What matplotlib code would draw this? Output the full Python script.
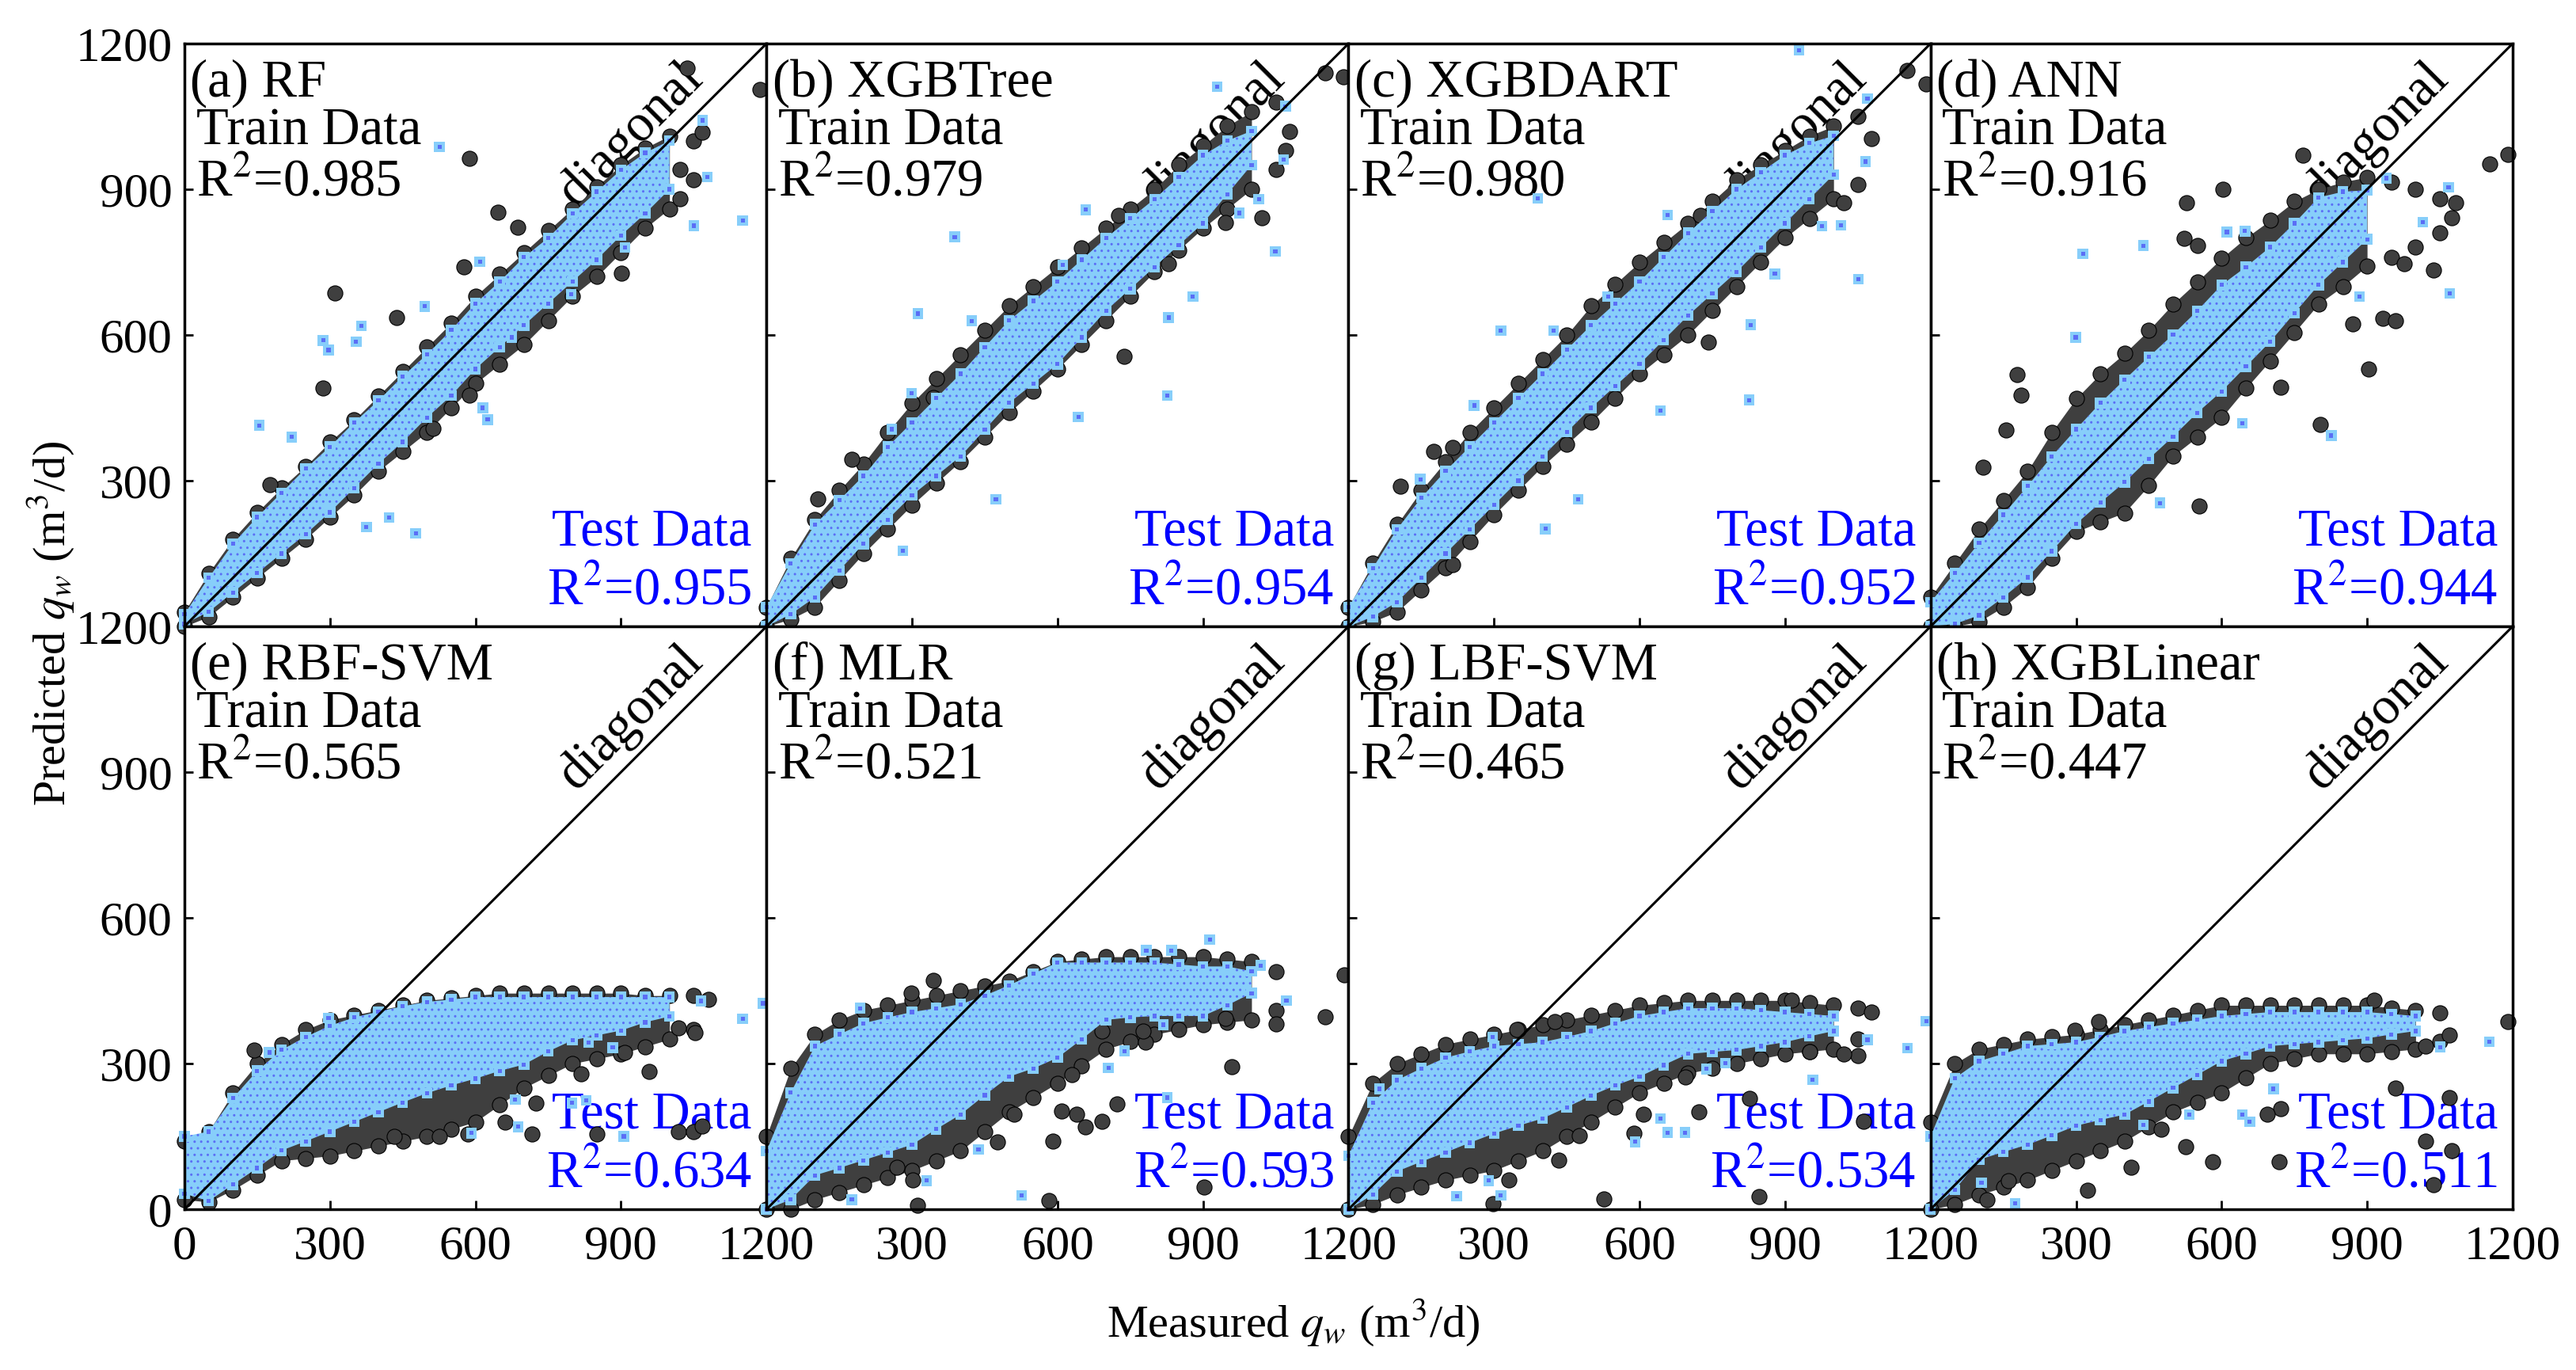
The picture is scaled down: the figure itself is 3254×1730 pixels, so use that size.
import numpy as np
import matplotlib
matplotlib.use('Agg')
import matplotlib.pyplot as plt

plt.rcParams['font.family'] = ['Liberation Serif', 'DejaVu Serif']
plt.rcParams['mathtext.fontset'] = 'stix'
plt.rcParams['hatch.linewidth'] = 1.0

# panel titles and R2 values
titles = ['(a) RF', '(b) XGBTree', '(c) XGBDART', '(d) ANN',
          '(e) RBF-SVM', '(f) MLR', '(g) LBF-SVM', '(h) XGBLinear']
train_r2 = ['0.985', '0.979', '0.980', '0.916', '0.565', '0.521', '0.465', '0.447']
test_r2 = ['0.955', '0.954', '0.952', '0.944', '0.634', '0.593', '0.534', '0.511']
ticks = [0, 300, 600, 900, 1200]

grid = [0, 50, 100, 150, 200, 250, 300, 350, 400, 450, 500,
        550, 600, 650, 700, 750, 800, 850, 900, 950, 1000, 1050]

# lower / upper edge of each cloud (predicted), sparse points listed separately
rf_train_lo = [0, 20, 60, 100, 140, 180, 225, 270, 320, 360, 400, 450, 500, 540, 580, 630, 680, 720, 770, 820, 860, 920]
rf_train_hi = [30, 110, 180, 235, 285, 330, 380, 425, 475, 525, 575, 625, 680, 725, 770, 815, 860, 905, 950, 985, 1010, 1000]
rf_test_lo = [5, 30, 70, 110, 150, 190, 235, 285, 335, 380, 430, 475, 530, 575, 620, 665, 710, 755, 805, 850, 900]
rf_test_hi = [25, 100, 170, 225, 275, 325, 370, 420, 465, 515, 560, 610, 665, 710, 760, 800, 850, 895, 940, 975, 1000]
rf_train_out = [(310, 686), (588, 963), (646, 852), (687, 822), (576, 740), (286, 490),
                (437, 636), (1021, 880), (901, 727), (1021, 940), (512, 407), (1187, 1106),
                (1036, 1149), (1068, 1018), (588, 476), (177, 292)]
rf_test_out = [(526, 987), (1078, 925), (1151, 836), (1050, 825), (609, 751), (1068, 1042),
               (365, 619), (286, 589), (297, 569), (354, 586), (154, 414), (221, 390),
               (625, 426), (615, 450), (477, 192), (375, 205), (422, 224), (797, 684),
               (908, 780), (675, 595), (495, 659)]

xt_train_lo = [0, 15, 40, 95, 150, 200, 250, 295, 340, 390, 440, 485, 530, 580, 630, 680, 730, 775, 820, 860, 900, 940]
xt_train_hi = [40, 140, 220, 280, 335, 400, 460, 510, 560, 610, 660, 700, 740, 780, 820, 860, 900, 950, 990, 1030, 1060, 1080]
xt_test_lo = [0, 25, 60, 115, 170, 220, 270, 310, 350, 405, 460, 500, 540, 595, 650, 695, 740, 785, 830, 890, 950]
xt_test_hi = [40, 130, 210, 260, 310, 370, 420, 470, 520, 575, 630, 670, 710, 755, 800, 840, 880, 925, 970, 1000, 1020]
xt_train_out = [(1152, 1139), (1189, 1132), (1078, 1019), (1070, 980), (1021, 842), (947, 832),
                (738, 556), (726, 847), (105, 262), (176, 344), (828, 746), (344, 472)]
xt_test_out = [(929, 1111), (1070, 1071), (1066, 961), (1049, 772), (1015, 880), (975, 851),
               (658, 858), (388, 802), (312, 644), (423, 629), (826, 475), (643, 431),
               (879, 679), (829, 636), (299, 480), (258, 406), (473, 262), (281, 156),
               (611, 744)]

xd_train_lo = [0, 10, 30, 75, 120, 175, 230, 280, 330, 375, 420, 470, 520, 560, 600, 650, 700, 750, 800, 840, 880, 910]
xd_train_hi = [40, 130, 210, 280, 340, 400, 450, 500, 550, 600, 660, 705, 750, 790, 830, 875, 920, 950, 980, 1010, 1030, 1050]
xd_test_lo = [0, 20, 50, 100, 150, 200, 250, 300, 350, 400, 450, 495, 540, 590, 640, 685, 730, 780, 830, 880, 930]
xd_test_hi = [40, 120, 200, 265, 320, 370, 420, 470, 520, 570, 620, 665, 710, 760, 810, 855, 900, 935, 970, 995, 1010]
xd_train_out = [(1152, 1144), (1191, 1117), (1078, 1004), (1021, 873), (726, 847), (722, 797),
                (176, 361), (215, 369), (107, 289), (742, 586), (215, 127)]
xd_test_out = [(929, 1186), (1070, 1087), (1066, 957), (1051, 715), (976, 824), (1015, 826),
               (658, 847), (390, 881), (314, 609), (423, 609), (826, 466), (643, 444),
               (829, 621), (879, 726), (259, 455), (148, 303), (406, 201), (473, 262),
               (535, 679)]

ann_train_lo = [0, 0, 10, 40, 80, 140, 195, 215, 234, 290, 351, 390, 430, 490, 547, 605, 664, 700, 742, 760, 781, 810]
ann_train_hi = [60, 130, 200, 260, 320, 400, 469, 520, 562, 610, 664, 710, 758, 800, 836, 875, 900, 915, 925, 915, 900, 880]
ann_test_lo = [0, 5, 23, 60, 101, 155, 211, 255, 297, 345, 391, 440, 484, 535, 586, 645, 703, 750, 797]
ann_test_hi = [50, 110, 172, 230, 289, 350, 406, 460, 508, 555, 601, 650, 703, 740, 781, 830, 883, 895, 898]
ann_train_out = [(1191, 972), (1152, 953), (768, 970), (603, 900), (527, 873), (523, 799),
                 (551, 785), (1037, 733), (976, 746), (933, 634), (959, 629), (871, 623),
                 (903, 530), (803, 415), (178, 519), (187, 476), (156, 404), (109, 328),
                 (553, 248), (722, 492), (1082, 873), (1074, 842)]
ann_test_out = [(314, 767), (439, 784), (299, 595), (611, 812), (648, 814), (1068, 904),
                (1070, 686), (884, 679), (1015, 832), (826, 393), (643, 418), (473, 254),
                (940, 923)]

rbf_train_lo = [20, 15, 40, 70, 100, 105, 110, 120, 130, 140, 150, 165, 180, 215, 250, 275, 300, 310, 320, 335, 350, 370]
rbf_train_hi = [140, 160, 240, 300, 340, 370, 390, 400, 410, 420, 430, 435, 440, 445, 445, 445, 445, 445, 445, 440, 440, 440]
rbf_test_lo = [32, 17, 51, 85, 121, 140, 160, 180, 200, 220, 239, 255, 269, 285, 298, 325, 348, 358, 368, 385, 397]
rbf_test_hi = [150, 160, 229, 285, 328, 355, 378, 395, 407, 418, 427, 432, 437, 437, 437, 437, 437, 437, 437, 437, 437]
rbf_train_out = [(144, 328), (526, 150), (584, 155), (716, 155), (851, 155), (1019, 160),
                 (1049, 160), (1068, 172), (958, 284), (818, 279), (661, 180), (432, 150),
                 (724, 219), (1081, 432), (1052, 363), (1019, 373), (908, 323)]
rbf_test_out = [(1151, 392), (1193, 424), (1065, 429), (906, 150), (592, 157), (688, 170),
                (799, 219), (828, 224), (682, 226), (297, 394), (175, 323), (883, 333),
                (833, 343)]

mlr_train_lo = [0, 0, 20, 35, 50, 65, 80, 100, 120, 160, 200, 230, 260, 295, 330, 345, 360, 370, 380, 385, 390, 410]
mlr_train_hi = [150, 290, 360, 390, 410, 420, 430, 440, 450, 460, 470, 490, 510, 515, 520, 520, 520, 520, 520, 515, 510, 490]
mlr_test_lo = [0, 20, 70, 85, 101, 117, 133, 165, 195, 235, 273, 290, 312, 350, 390, 395, 398, 398, 398, 420, 445]
mlr_test_hi = [120, 240, 336, 360, 383, 395, 406, 414, 422, 440, 461, 485, 508, 508, 508, 508, 508, 504, 500, 500, 490]
mlr_train_out = [(344, 472), (298, 445), (1191, 483), (1152, 396), (1051, 381), (947, 393),
                 (959, 294), (902, 45), (722, 217), (691, 181), (658, 169), (640, 195),
                 (608, 203), (590, 141), (582, 18), (476, 139), (510, 195), (629, 277),
                 (781, 344), (691, 367), (301, 61), (269, 86), (312, 8), (777, 367)]
mlr_test_out = [(914, 555), (783, 533), (835, 533), (1019, 502), (1072, 430), (738, 326),
                (705, 291), (818, 380), (826, 230), (437, 123), (330, 59), (526, 29),
                (176, 20), (193, 414), (150, 361)]

lbf_train_lo = [0, 10, 30, 45, 60, 70, 80, 100, 120, 150, 180, 210, 240, 260, 280, 290, 300, 310, 320, 325, 330, 350]
lbf_train_hi = [150, 260, 300, 320, 340, 350, 360, 370, 380, 390, 400, 410, 420, 425, 430, 430, 430, 430, 430, 425, 420, 415]
lbf_test_lo = [0, 30, 78, 98, 117, 137, 156, 172, 187, 210, 234, 255, 273, 297, 320, 324, 328, 336, 344, 356, 367]
lbf_test_hi = [110, 220, 266, 290, 312, 325, 336, 340, 344, 355, 367, 383, 398, 406, 414, 414, 414, 410, 406, 402, 398]
lbf_train_out = [(914, 430), (1078, 406), (1051, 316), (1021, 320), (426, 387), (347, 371),
                 (722, 201), (608, 195), (588, 156), (527, 22), (434, 102), (476, 152),
                 (847, 27), (330, 61), (298, 12), (1062, 181), (826, 228), (695, 273),
                 (950, 324)]
lbf_test_out = [(1191, 387), (1152, 332), (1070, 349), (957, 267), (738, 289), (777, 301),
                (643, 187), (658, 158), (694, 158), (591, 139), (289, 59), (314, 29),
                (223, 27), (297, 355), (64, 248)]

xl_train_lo = [0, 10, 30, 45, 60, 80, 100, 120, 140, 170, 200, 220, 240, 270, 300, 310, 320, 320, 320, 325, 330, 345]
xl_train_hi = [180, 300, 330, 340, 350, 355, 360, 370, 380, 390, 400, 410, 420, 420, 420, 420, 420, 420, 420, 415, 410, 405]
xl_test_lo = [0, 40, 102, 118, 133, 152, 172, 184, 195, 222, 250, 277, 305, 320, 336, 340, 344, 348, 352, 360, 367]
xl_test_hi = [150, 270, 305, 320, 336, 340, 344, 355, 367, 375, 383, 390, 398, 402, 406, 406, 406, 406, 406, 402, 398]
xl_train_out = [(346, 387), (298, 369), (1191, 387), (1070, 359), (1021, 336), (959, 250),
                (1070, 230), (1021, 141), (718, 98), (582, 98), (414, 86), (526, 129),
                (476, 164), (722, 207), (694, 195), (323, 39), (1074, 121), (1037, 51),
                (160, 59), (117, 20), (914, 430)]
xl_test_out = [(1152, 345), (1051, 334), (707, 248), (658, 180), (643, 195), (533, 195),
               (439, 174), (174, 12), (105, 55)]

train_lo = [rf_train_lo, xt_train_lo, xd_train_lo, ann_train_lo,
            rbf_train_lo, mlr_train_lo, lbf_train_lo, xl_train_lo]
train_hi = [rf_train_hi, xt_train_hi, xd_train_hi, ann_train_hi,
            rbf_train_hi, mlr_train_hi, lbf_train_hi, xl_train_hi]
test_lo = [rf_test_lo, xt_test_lo, xd_test_lo, ann_test_lo,
           rbf_test_lo, mlr_test_lo, lbf_test_lo, xl_test_lo]
test_hi = [rf_test_hi, xt_test_hi, xd_test_hi, ann_test_hi,
           rbf_test_hi, mlr_test_hi, lbf_test_hi, xl_test_hi]
train_out = [rf_train_out, xt_train_out, xd_train_out, ann_train_out,
             rbf_train_out, mlr_train_out, lbf_train_out, xl_train_out]
test_out = [rf_test_out, xt_test_out, xd_test_out, ann_test_out,
            rbf_test_out, mlr_test_out, lbf_test_out, xl_test_out]

dark = '#3f3f3f'
sky = '#87cefa'
inner = '#5b6ef5'

fig, axes = plt.subplots(2, 4, figsize=(32.54, 17.30), dpi=100)
fig.subplots_adjust(left=0.0716, right=0.9754, bottom=0.1173, top=0.9682,
                    wspace=0, hspace=0)

for i, ax in enumerate(axes.flat):
    tl, th = np.array(train_lo[i]), np.array(train_hi[i])
    sl, sh = np.array(test_lo[i]), np.array(test_hi[i])
    xt = np.array(grid[:len(tl)], dtype=float)
    xs = np.array(grid[:len(sl)], dtype=float)
    n = len(sl)

    # train cloud: dense part filled, the thin tail only as single points
    ax.fill_between(xt[:n], tl[:n], th[:n], color=dark, lw=0, zorder=2)
    px = np.concatenate([xt, xt, [p[0] for p in train_out[i]]])
    py = np.concatenate([tl, th, [p[1] for p in train_out[i]]])
    ax.scatter(px, py, s=190, marker='o', facecolor=dark, edgecolor='black',
               linewidth=0.8, zorder=3, clip_on=False)

    # test cloud
    ax.fill_between(xs, sl, sh, facecolor=sky, edgecolor=inner, hatch='..',
                    lw=0, zorder=4)
    qx = np.concatenate([xs, xs, [p[0] for p in test_out[i]]])
    qy = np.concatenate([sl, sh, [p[1] for p in test_out[i]]])
    ax.scatter(qx, qy, s=95, marker='s', facecolor=sky, edgecolor='none',
               zorder=5, clip_on=False)
    ax.scatter(qx, qy, s=14, marker='s', facecolor=inner, edgecolor='none',
               zorder=6, clip_on=False)

    ax.plot([0, 1200], [0, 1200], color='black', lw=2.2, zorder=7)

    ax.set_xlim(0, 1200)
    ax.set_ylim(0, 1200)
    ax.set_xticks(ticks)
    ax.set_yticks(ticks)
    ax.tick_params(direction='in', length=8, width=2, labelsize=44)
    ax.tick_params(axis='x', pad=14)
    ax.tick_params(axis='y', pad=11)
    for sp in ax.spines.values():
        sp.set_linewidth(2.5)
        sp.set_zorder(10)

    row, col = divmod(i, 4)
    if col == 0:
        ylabs = [str(t) for t in ticks]
        if row == 0:
            ylabs[0] = ''
        ax.set_yticklabels(ylabs)
    else:
        ax.set_yticklabels([])
    if row == 1:
        xlabs = [str(t) for t in ticks]
        if col > 0:
            xlabs[0] = ''
        ax.set_xticklabels(xlabs)
    else:
        ax.set_xticklabels([])

    ax.text(0.010, 0.909, titles[i], transform=ax.transAxes, fontsize=48,
            va='baseline', ha='left', zorder=1)
    ax.text(0.020, 0.827, 'Train Data', transform=ax.transAxes, fontsize=48,
            va='baseline', ha='left', zorder=1)
    ax.text(0.020, 0.739, 'R$^{2}$=' + train_r2[i], transform=ax.transAxes,
            fontsize=48, va='baseline', ha='left', zorder=1)
    ax.text(0.975, 0.139, 'Test Data', transform=ax.transAxes, fontsize=48,
            color='blue', va='baseline', ha='right', zorder=1)
    ax.text(0.975, 0.038, 'R$^{2}$=' + test_r2[i], transform=ax.transAxes,
            fontsize=48, color='blue', va='baseline', ha='right', zorder=1)
    ax.text(920, 1012, 'diagonal', fontsize=48, rotation=45,
            ha='center', va='center', zorder=1)

fig.text(0.020, 0.545, 'Predicted $q_w$ (m$^3$/d)', rotation=90, fontsize=42,
         ha='center', va='center')
fig.text(0.502, 0.034, 'Measured $q_w$ (m$^3$/d)', fontsize=42,
         ha='center', va='center')

fig.savefig('out.png', dpi=100)
